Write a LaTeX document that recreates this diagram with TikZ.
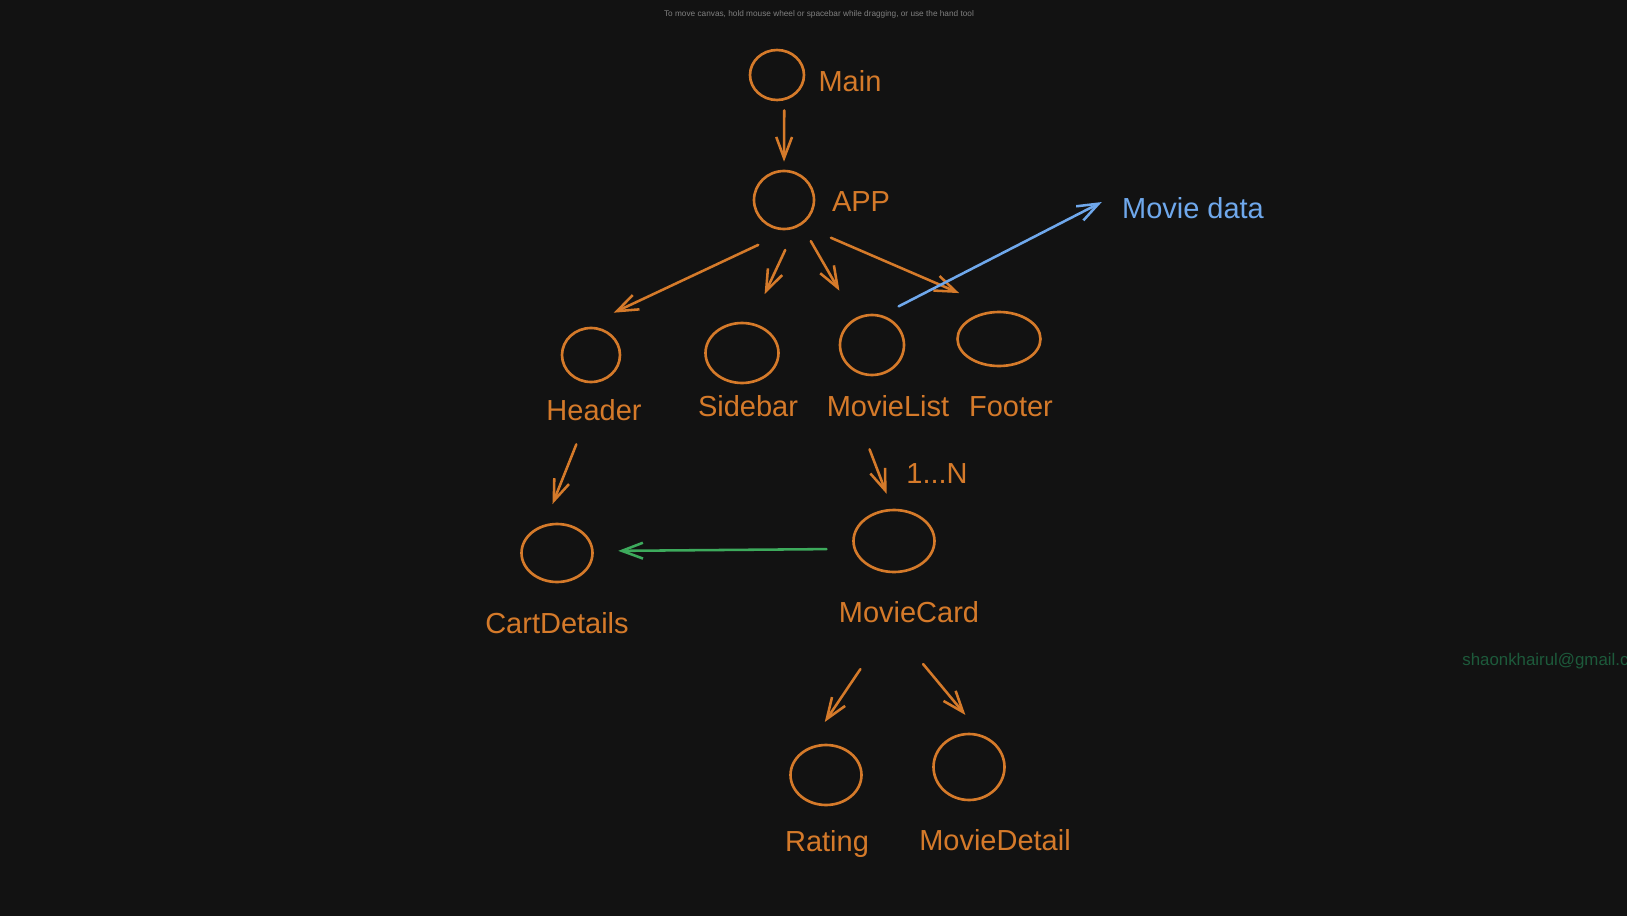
\documentclass[tikz,border=0pt]{standalone}
\usepackage{fontspec}
\setmainfont{Liberation Sans}
\usetikzlibrary{arrows.meta,shapes.geometric}
\definecolor{bg}{HTML}{121212}
\definecolor{sketch}{HTML}{D57A2A}
\definecolor{datablue}{HTML}{6FA8EC}
\definecolor{linkgreen}{HTML}{3DAA5C}
\definecolor{hint}{HTML}{808080}
\definecolor{mailgreen}{HTML}{1D5A3B}
\begin{document}
\begin{tikzpicture}[x=0.02cm, y=-0.02cm,
    comp/.style = {draw=sketch, ellipse, line width=1.5pt, inner sep=0pt},
    lbl/.style = {text=sketch, font=\fontsize{16.5}{20}\selectfont, inner sep=2pt, text height=12pt, text depth=0pt},
    flow/.style = {draw=sketch, line width=1.45pt, line cap=round, line join=round, -{Straight Barb[length=12pt,width=9pt]}}]
    \useasboundingbox (0,0) rectangle (1627,916);
    \fill[bg] (0,0) rectangle (1627,916);

    \node[text=hint, font=\fontsize{4.7}{6}\selectfont] (hint) at (819,14) {To move canvas, hold mouse wheel or spacebar while dragging, or use the hand tool};

    \node[comp, minimum width=1.08cm, minimum height=1cm] (main) at (777,75) {};
    \node[comp, minimum width=1.2cm, minimum height=1.16cm] (app) at (784,200) {};
    \node[comp, minimum width=1.16cm, minimum height=1.08cm] (header) at (591,355) {};
    \node[comp, minimum width=1.46cm, minimum height=1.2cm] (sidebar) at (742,353) {};
    \node[comp, minimum width=1.28cm, minimum height=1.2cm] (movielist) at (872,345) {};
    \node[comp, minimum width=1.66cm, minimum height=1.08cm] (footer) at (999,339) {};
    \node[comp, minimum width=1.42cm, minimum height=1.16cm] (cart) at (557,553) {};
    \node[comp, minimum width=1.62cm, minimum height=1.24cm] (moviecard) at (894,541) {};
    \node[comp, minimum width=1.42cm, minimum height=1.2cm] (rating) at (826,775) {};
    \node[comp, minimum width=1.42cm, minimum height=1.32cm] (moviedetail) at (969,767) {};

    \node[lbl] (mainlbl) at (850,81) {Main};
    \node[lbl] (applbl) at (861,201) {APP};
    \node[lbl] (headerlbl) at (594,410) {Header};
    \node[lbl] (sidebarlbl) at (748,406) {Sidebar};
    \node[lbl] (movielistlbl) at (888,406) {MovieList};
    \node[lbl] (footerlbl) at (1011,406) {Footer};
    \node[lbl] (cartlbl) at (557,623) {CartDetails};
    \node[lbl] (moviecardlbl) at (909,612) {MovieCard};
    \node[lbl] (ratinglbl) at (827,841) {Rating};
    \node[lbl] (moviedetaillbl) at (995,840) {MovieDetail};
    \node[lbl] (nlbl) at (937,473) {1...N};
    \node[lbl, text=datablue] (moviedata) at (1193,208) {Movie data};

    \draw[flow, shorten <=0.2cm, shorten >=0.16cm] (main.-74) -- (app.90);
    \draw[flow, shorten <=0.72cm, shorten >=0.77cm] (app.-77) -- (header.115);
    \draw[flow, shorten <=0.48cm, shorten >=0.63cm] (app.-68) -- (sidebar.73);
    \draw[flow, shorten <=0.37cm, shorten >=0.63cm] (app.-55) -- (movielist.122);
    \draw[flow, shorten <=0.64cm, shorten >=0.89cm] (app.-55) -- (footer.88);
    \draw[flow, draw=datablue, shorten <=0.38cm, shorten >=0.37cm] (movielist.72) -- (moviedata.north west);
    \draw[flow, shorten <=0.43cm, shorten >=0.44cm] (headerlbl.-124) -- (cart.114);
    \draw[flow, shorten <=0.62cm, shorten >=0.32cm] (movielistlbl.-154) -- (moviecard.93);
    \draw[flow, draw=linkgreen, shorten <=0.54cm, shorten >=0.49cm] (moviecard.191) -- (cart.3);
    \draw[flow, shorten <=1.03cm, shorten >=0.63cm] (moviecardlbl.-144) -- (rating.125);
    \draw[flow, shorten <=0.98cm, shorten >=0.52cm] (moviecardlbl.-140) -- (moviedetail.68);

    \node[text=mailgreen, font=\fontsize{9.6}{12}\selectfont, anchor=west, inner sep=0pt] (mail) at (1462,661) {shaonkhairul@gmail.c};
\end{tikzpicture}
\end{document}
